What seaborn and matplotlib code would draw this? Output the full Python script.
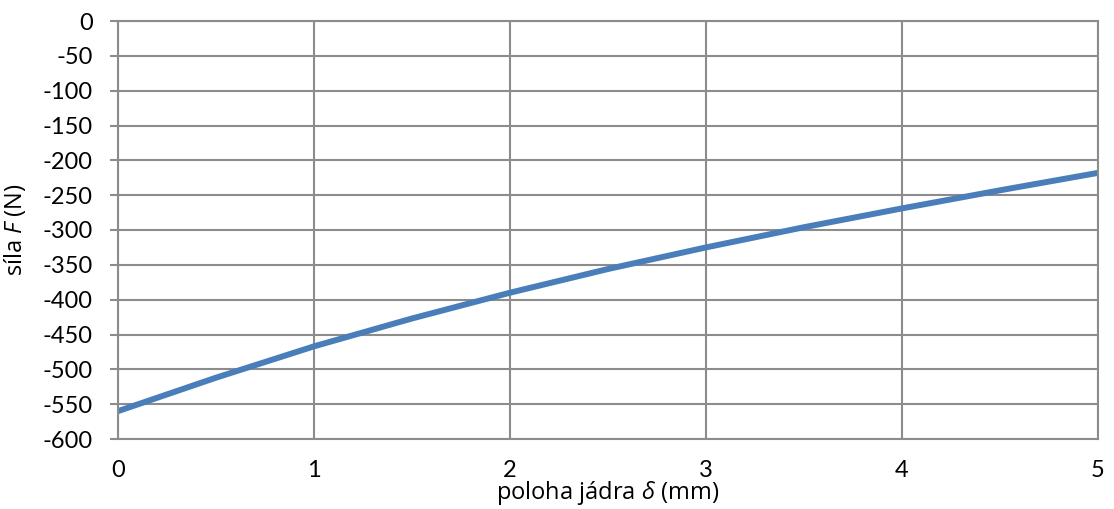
import matplotlib
matplotlib.use("Agg")
import matplotlib.pyplot as plt
import seaborn as sns
import pandas as pd

# core position (mm) and resulting force (N)
position_mm = [0.0, 0.5, 1.0, 1.5, 2.0, 2.5, 3.0, 3.5, 4.0, 4.5, 5.0]
force_n = [-560, -512, -467, -427, -390, -356, -325, -296, -269, -243, -218]

x_ticks = [0, 1, 2, 3, 4, 5]
y_ticks = list(range(-600, 1, 50))

sns.set_theme(style="white")
plt.rcParams["font.family"] = ["Lato", "DejaVu Sans"]
plt.rcParams["mathtext.fontset"] = "custom"
plt.rcParams["mathtext.rm"] = "Open Sans"
plt.rcParams["mathtext.it"] = "Open Sans:italic"

grid_color = "#8c8c8c"
line_color = "#4A7EBB"

fig = plt.figure(figsize=(11.14, 5.09), dpi=100)
ax = fig.add_axes([118 / 1114, 70 / 509, 980 / 1114, 418 / 509])

df = pd.DataFrame({"x": position_mm, "F": force_n})
sns.lineplot(data=df, x="x", y="F", ax=ax, color=line_color, linewidth=4.3,
             solid_capstyle="butt")

ax.set_xlim(0, 5)
ax.set_ylim(-600, 0)
ax.set_xticks(x_ticks)
ax.set_yticks(y_ticks)
ax.set_xticklabels([str(v) for v in x_ticks])
ax.set_yticklabels([str(v) for v in y_ticks])

ax.grid(True, color=grid_color, linewidth=1.5)
ax.set_axisbelow(True)
for side in ["left", "bottom", "top", "right"]:
    ax.spines[side].set_color(grid_color)
    ax.spines[side].set_linewidth(1.5)

ax.tick_params(axis="y", which="major", direction="out", length=6, width=1.5,
               color=grid_color, pad=12, labelsize=17, labelcolor="black", left=True)
ax.tick_params(axis="x", which="major", length=0, pad=15, labelsize=17,
               labelcolor="black", bottom=True)

ax.set_xlabel(r"poloha jádra $\mathit{δ}$ (mm)", fontsize=17, family="Open Sans",
              color="black")
ax.set_ylabel(r"síla $\mathit{F}$ (N)", fontsize=17, family="Open Sans",
              color="black")
ax.yaxis.set_label_coords(-0.092, 0.5)
ax.xaxis.set_label_coords(0.5, -0.095)

fig.savefig("out.png", dpi=100, facecolor="white")
